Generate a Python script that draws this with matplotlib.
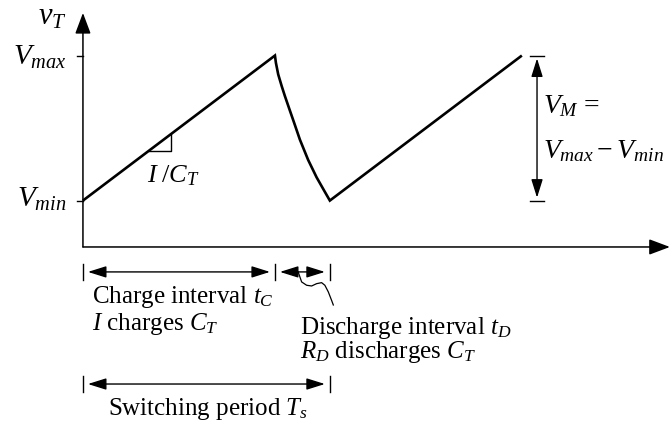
import matplotlib.pyplot as plt

plt.rcParams['font.family'] = ['Liberation Serif', 'DejaVu Serif']
plt.rcParams['mathtext.fontset'] = 'custom'
plt.rcParams['mathtext.rm'] = 'Liberation Serif'
plt.rcParams['mathtext.it'] = 'Liberation Serif:italic'

# waveform levels and timing (time in units of the charge interval)
V_MIN = 0.32
V_MAX = 1.32
T_C = 1.0
T_D = 0.286

# charge ramp, RC discharge, second charge ramp
ramp1_t = [0.0, T_C]
ramp1_v = [V_MIN, V_MAX]
dis_t = [1.0, 1.005, 1.017, 1.035, 1.052, 1.078, 1.099, 1.130, 1.173, 1.217, 1.260, 1.286]
dis_v = [1.32, 1.27, 1.19, 1.11, 1.04, 0.94, 0.86, 0.74, 0.60, 0.48, 0.38, 0.32]
ramp2_t = [T_C + T_D, 2 * T_C + T_D]
ramp2_v = [V_MIN, V_MAX]

# slope triangle on the first ramp
tri_t = [0.345, 0.458]

# wavy leader from the discharge arrow to its label
wave_t = [1.121, 1.139, 1.165, 1.191, 1.217, 1.243, 1.260, 1.278, 1.295, 1.304]
wave_v = [-0.172, -0.241, -0.264, -0.269, -0.253, -0.246, -0.264, -0.310, -0.368, -0.400]

fig = plt.figure(figsize=(6.72, 4.21), dpi=100)
ax = fig.add_axes([0, 0, 1, 1])
ax.set_xlim(-0.432, 3.068)
ax.set_ylim(-1.2, 1.703)
ax.axis('off')

lw_wave = 1.9
fs = 18

wave_kw = dict(color='black', lw=lw_wave, solid_joinstyle='miter', solid_capstyle='butt')
ax.plot(ramp1_t + dis_t + ramp2_t, ramp1_v + dis_v + ramp2_v, **wave_kw)

# slope triangle
slope = (V_MAX - V_MIN) / T_C
v0 = V_MIN + slope * tri_t[0]
v1 = V_MIN + slope * tri_t[1]
ax.plot([tri_t[0], tri_t[1], tri_t[1]], [v0, v0, v1], color='black', lw=1.0)
ax.text(0.333, 0.448, r'$I\;/C_T$', fontsize=fs + 1, ha='left', va='baseline')

head = dict(arrowstyle='-|>,head_length=0.8,head_width=0.3', color='black',
            lw=1.1, shrinkA=0, shrinkB=0, mutation_scale=16)
# axes
ax.annotate('', xy=(0, 1.614), xytext=(0, 0), arrowprops=head)
ax.annotate('', xy=(3.057, 0), xytext=(0, 0), arrowprops=head)

# level ticks and labels
ax.plot([-0.031, 0], [V_MAX, V_MAX], color='black', lw=1.0)
ax.plot([-0.031, 0], [V_MIN, V_MIN], color='black', lw=1.0)
ax.text(-0.083, 1.255, r'$V_{max}$', fontsize=fs + 3, ha='right', va='baseline')
ax.text(-0.083, 0.276, r'$V_{min}$', fontsize=fs + 3, ha='right', va='baseline')
ax.text(-0.083, 1.531, r'$v_T$', fontsize=fs + 4, ha='right', va='baseline')

# peak-to-peak bracket
x_b = 2.365
dbl = dict(arrowstyle='<|-|>,head_length=0.7,head_width=0.22', color='black',
           lw=1.0, shrinkA=0, shrinkB=0, mutation_scale=16)
ax.annotate('', xy=(x_b, V_MAX - 0.02), xytext=(x_b, V_MIN + 0.02), arrowprops=dbl)
for v in (V_MIN, V_MAX):
    ax.plot([x_b - 0.036, x_b + 0.036], [v, v], color='black', lw=1.0)
ax.text(2.396, 0.924, r'$V_M$ =', fontsize=fs + 2, ha='left', va='baseline')
ax.text(2.396, 0.614, r'$V_{max} - V_{min}$', fontsize=fs + 2, ha='left', va='baseline')

# timing intervals below the time axis
y_int = -0.172
y_sw = -0.945
tk = 0.058
for t in (0, T_C, T_C + T_D):
    ax.plot([t, t], [y_int - tk, y_int + tk], color='black', lw=1.0)
for t in (0, T_C + T_D):
    ax.plot([t, t], [y_sw - tk, y_sw + tk], color='black', lw=1.0)
gap = 0.026
ax.annotate('', xy=(gap, y_int), xytext=(T_C - gap, y_int), arrowprops=dbl)
ax.annotate('', xy=(T_C + gap, y_int), xytext=(T_C + T_D - gap, y_int), arrowprops=dbl)
ax.annotate('', xy=(gap, y_sw), xytext=(T_C + T_D - gap, y_sw), arrowprops=dbl)
ax.plot(wave_t, wave_v, color='black', lw=0.9)

ax.text(0.047, -0.386, r'Charge interval $t_C$', fontsize=fs, ha='left', va='baseline')
ax.text(0.047, -0.572, r'$I$ charges $C_T$', fontsize=fs, ha='left', va='baseline')
ax.text(1.130, -0.598, r'Discharge interval $t_D$', fontsize=fs, ha='left', va='baseline')
ax.text(1.130, -0.768, r'$R_D$ discharges $C_T$', fontsize=fs, ha='left', va='baseline')
ax.text(0.130, -1.16, r'Switching period $T_s$', fontsize=fs, ha='left', va='baseline')

fig.savefig('out.png', dpi=100)
